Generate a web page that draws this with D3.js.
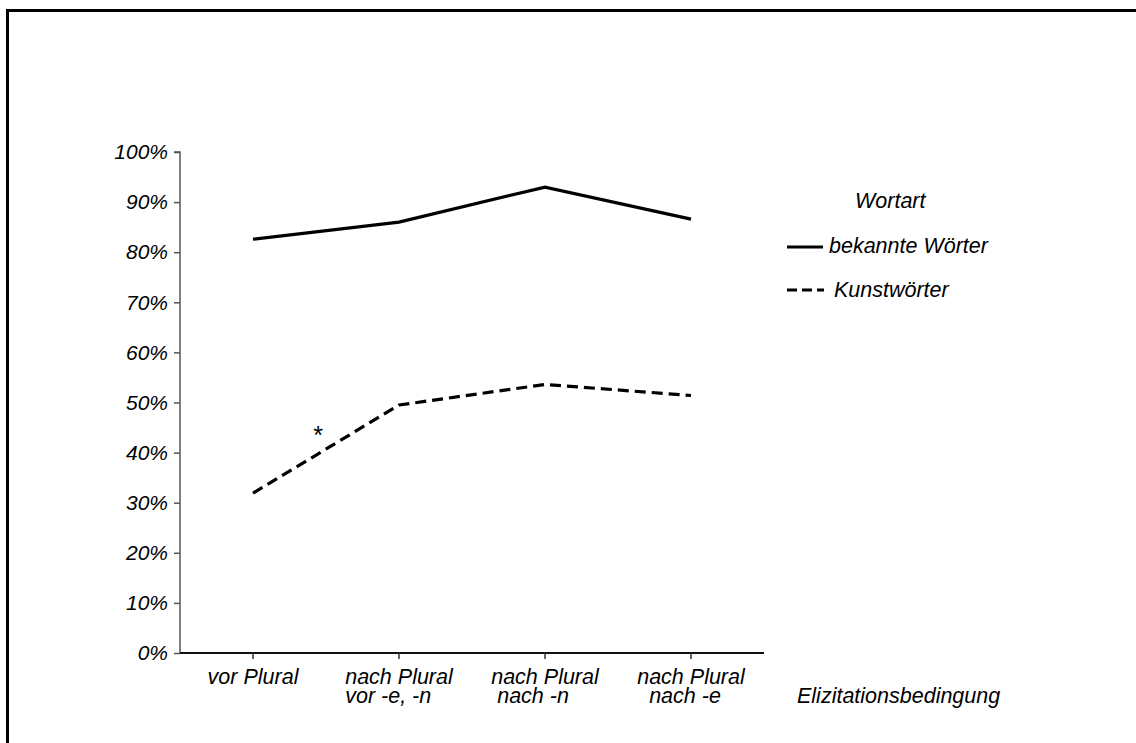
<!DOCTYPE html>
<html>
<head>
<meta charset="utf-8">
<script src="https://cdn.jsdelivr.net/npm/d3@7"></script>
<style>
  html, body { margin: 0; padding: 0; background: #fff; }
  svg { display: block; }
  text { font-family: "Liberation Sans", Arial, sans-serif; font-style: italic; fill: #000; }
</style>
</head>
<body>
<svg id="chart" width="1136" height="743"></svg>
<script>
// ---- data ----
const categories = ["vor Plural", "nach Plural vor -e, -n", "nach Plural nach -n", "nach Plural nach -e"];
const labelLine1 = ["vor Plural", "nach Plural", "nach Plural", "nach Plural"];
const labelLine2 = ["", "vor -e, -n", " nach -n", "  nach -e"];
const bekannteWoerter = [82.6, 86.0, 93.0, 86.6];
const kunstwoerter = [31.9, 49.5, 53.6, 51.4];
const yTicks = [0, 10, 20, 30, 40, 50, 60, 70, 80, 90, 100];
const seriesNames = ["bekannte Wörter", "Kunstwörter"];
const legendTitle = "Wortart";
const xTitle = "Elizitationsbedingung";

// ---- layout ----
(function () {
const svg = d3.select("#chart");
const W = 1136, H = 743;
const pLeft = 180, pRight = 764, pTop = 152, pBottom = 653;
const fs = "21.5px";

// frame (top and left edges only visible)
svg.append("line").attr("x1", 7.5).attr("x2", W).attr("y1", 10.5).attr("y2", 10.5)
  .attr("stroke", "#000").attr("stroke-width", 3);
svg.append("line").attr("x1", 7.5).attr("x2", 7.5).attr("y1", 9).attr("y2", H)
  .attr("stroke", "#000").attr("stroke-width", 3);

const x = d3.scaleBand().domain(categories).range([pLeft, pRight]);
const y = d3.scaleLinear().domain([0, 100]).range([pBottom, pTop]);
const cx = d => x(d) + x.bandwidth() / 2;

// y axis
const yAxis = d3.axisLeft(y).tickValues(yTicks).tickFormat(d => d + "%").tickSize(6).tickPadding(6);
const gy = svg.append("g").attr("transform", `translate(${pLeft},0)`).call(yAxis);
gy.select(".domain").attr("stroke", "#555").attr("stroke-width", 1.5).attr("d", `M-6,${pTop}H0V${pBottom}`);
gy.selectAll(".tick line").attr("stroke", "#555").attr("stroke-width", 1.5);
gy.selectAll(".tick text").style("font-size", "21px").style("font-family", "'Liberation Sans', Arial, sans-serif")
  .style("font-style", "italic").attr("fill", "#000");

// x axis
const xAxis = d3.axisBottom(x).tickSize(6).tickFormat("");
const gx = svg.append("g").attr("transform", `translate(0,${pBottom})`).call(xAxis);
gx.select(".domain").attr("stroke", "#111").attr("stroke-width", 2).attr("d", `M${pLeft},0H${pRight}`);
gx.selectAll(".tick line").attr("stroke", "#333").attr("stroke-width", 1.5);

// x labels (two lines: first centered, second starts at first line's left edge)
categories.forEach((c, i) => {
  const t1 = svg.append("text").attr("x", cx(c)).attr("y", 684)
    .attr("text-anchor", "middle").style("font-size", fs).text(labelLine1[i]);
  const w = t1.node().getComputedTextLength();
  if (labelLine2[i]) {
    svg.append("text").attr("x", cx(c) - w / 2).attr("y", 703)
      .attr("xml:space", "preserve").style("white-space", "pre")
      .style("font-size", fs).text(labelLine2[i]);
  }
});

svg.append("text").attr("x", 797).attr("y", 703).style("font-size", fs).text(xTitle);

// lines
const line = d3.line().x((d, i) => cx(categories[i])).y(d => y(d));
svg.append("path").datum(bekannteWoerter).attr("d", line)
  .attr("fill", "none").attr("stroke", "#000").attr("stroke-width", 3.2).attr("stroke-linejoin", "miter");
svg.append("path").datum(kunstwoerter).attr("d", line)
  .attr("fill", "none").attr("stroke", "#000").attr("stroke-width", 3.2)
  .attr("stroke-dasharray", "11,6");

// asterisk
svg.append("text").attr("x", 318).attr("y", 444).attr("text-anchor", "middle")
  .style("font-size", "25px").style("font-style", "normal").text("*");

// legend
svg.append("text").attr("x", 855).attr("y", 208).style("font-size", fs).text(legendTitle);
svg.append("line").attr("x1", 787).attr("x2", 823).attr("y1", 247).attr("y2", 247)
  .attr("stroke", "#000").attr("stroke-width", 3.2);
svg.append("text").attr("x", 829).attr("y", 253).style("font-size", fs).text(seriesNames[0]);
svg.append("line").attr("x1", 787).attr("x2", 824).attr("y1", 290).attr("y2", 290)
  .attr("stroke", "#000").attr("stroke-width", 3.2).attr("stroke-dasharray", "10,5");
svg.append("text").attr("x", 834).attr("y", 297).style("font-size", fs).text(seriesNames[1]);
})();
</script>
</body>
</html>
